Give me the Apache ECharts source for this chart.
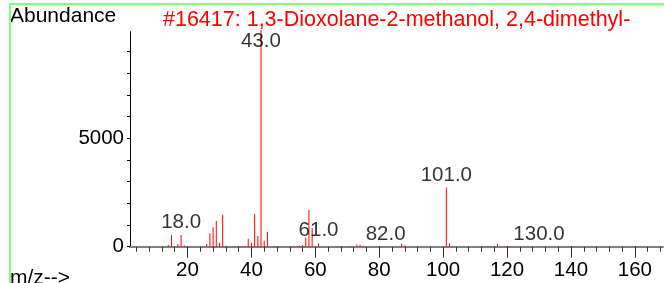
<!DOCTYPE html>
<html>
<head>
<meta charset="utf-8">
<title>Mass spectrum</title>
<script src="https://cdn.jsdelivr.net/npm/echarts@6/dist/echarts.min.js"></script>
<style>
html, body { margin: 0; padding: 0; background: #fff; }
#main { width: 664px; height: 283px; }
</style>
</head>
<body>
<div id="main"></div>
<script>
// peaks: m/z and abundance
var mzValues = [14, 15, 17, 18, 19, 26, 27, 28, 29, 30, 31, 32, 36, 37, 38, 39, 40, 41, 42, 43, 44, 45,
	47, 49, 53, 55, 56, 57, 58, 59, 61, 68, 71, 73, 74, 75, 82, 87, 88, 101, 102, 103, 112, 114, 117, 130];
var abundance = [80, 530, 120, 545, 60, 120, 620, 900, 1190, 185, 1460, 40, 20, 30, 30, 370, 185, 1505, 490, 9999, 277, 685,
	20, 20, 20, 60, 80, 430, 1690, 860, 160, 20, 30, 100, 90, 40, 15, 150, 60, 2730, 160, 30, 20, 30, 125, 10];

// labelled peaks (43 is drawn inside the plot, under the top)
var labelMz = [18, 43, 61, 82, 101, 130];
var labelAt = [545, 8890, 160, 15, 2730, 10];

// axis ticks
var xMinorTicks = [4, 8, 12, 16, 20, 24, 28, 32, 36, 40, 44, 48, 52, 56, 60, 64, 68, 72, 76, 80, 84,
	88, 92, 96, 100, 104, 108, 112, 116, 120, 124, 128, 132, 136, 140, 144, 148, 152, 156, 160, 164, 168];
var xMajorTicks = [20, 40, 60, 80, 100, 120, 140, 160];
var yTicks = [0, 1000, 2000, 3000, 4000, 5000, 6000, 7000, 8000, 9000];
var yLabels = [0, 5000];

var FONT = 'Liberation Sans';

var barData = [];
for (var i = 0; i < mzValues.length; i++) {
	barData.push([mzValues[i], abundance[i]]);
}
var labelData = [];
for (var j = 0; j < labelMz.length; j++) {
	labelData.push([labelMz[j], labelAt[j]]);
}

var myChart = echarts.init(document.getElementById('main'), null, { renderer: 'canvas' });
var option = {
	animation: false,
	backgroundColor: '#fff',
	grid: { left: 130, top: 31.7, width: 533, height: 215 },
	xAxis: [
		{
			// minor ticks + the baseline
			type: 'value', position: 'bottom', min: 2, max: 168.8,
			axisLine: { show: true, lineStyle: { color: '#808080', width: 2 } },
			axisTick: { show: true, customValues: xMinorTicks, length: 5, lineStyle: { color: '#333', width: 1 } },
			axisLabel: { show: false },
			splitLine: { show: false }
		},
		{
			// long ticks with labels every 20
			type: 'value', position: 'bottom', min: 2, max: 168.8,
			axisLine: { show: false },
			axisTick: { show: true, customValues: xMajorTicks, length: 11, lineStyle: { color: '#333', width: 1 } },
			axisLabel: { show: true, customValues: xMajorTicks, margin: 13, color: '#000', fontFamily: FONT, fontSize: 20.5 },
			splitLine: { show: false }
		}
	],
	yAxis: {
		type: 'value', min: 0, max: 9920,
		axisLine: { show: true, lineStyle: { color: '#000', width: 1 } },
		axisTick: { show: true, customValues: yTicks, length: 3, lineStyle: { color: '#000' } },
		axisLabel: {
			show: true, customValues: yLabels, margin: 6, color: '#000', fontFamily: FONT, fontSize: 20.5,
			formatter: function (v) { return String(v); }
		},
		splitLine: { show: false }
	},
	series: [
		{
			type: 'bar',
			xAxisIndex: 0,
			data: barData,
			barWidth: 1,
			clip: false,
			itemStyle: { color: '#ff0000' }
		},
		{
			type: 'scatter',
			xAxisIndex: 0,
			data: labelData,
			symbolSize: 0,
			clip: false,
			z: 5,
			label: {
				show: true, position: 'top', distance: 2,
				color: '#000', fontFamily: FONT, fontSize: 20.5,
				formatter: function (p) { return p.value[0].toFixed(1); }
			}
		}
	],
	graphic: [
		// green frame edges
		{ type: 'polyline', shape: { points: [[10, 290], [10, 4], [670, 4]] },
			style: { stroke: '#7fff7f', lineWidth: 2, fill: null }, z: 10 },
		{ type: 'text', left: 10, top: 6,
			style: { text: 'Abundance', fill: '#000', font: '21px "Liberation Sans"' } },
		{ type: 'text', left: 163, top: 9,
			style: { text: '#16417: 1,3-Dioxolane-2-methanol, 2,4-dimethyl-', fill: '#ff0000', font: '21.5px "Liberation Sans"' } },
		{ type: 'text', left: 10, top: 268,
			style: { text: 'm/z-->', fill: '#000', font: '21px "Liberation Sans"' } }
	]
};
myChart.setOption(option);
window.addEventListener('resize', function () {
	myChart.resize();
});
</script>
</body>
</html>
